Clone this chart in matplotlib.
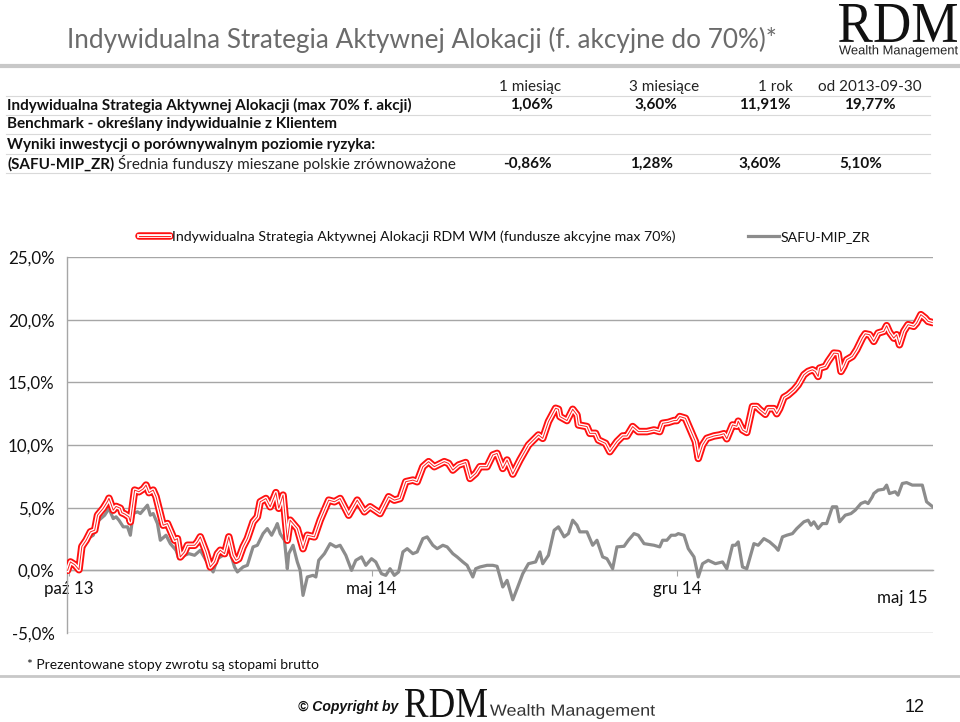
import numpy as np
import pandas as pd
import matplotlib
matplotlib.use("Agg")
import matplotlib.pyplot as plt
from matplotlib.lines import Line2D
from matplotlib.legend_handler import HandlerTuple
from matplotlib.ticker import FuncFormatter
from matplotlib.textpath import TextPath
from matplotlib.patches import PathPatch
from matplotlib.font_manager import FontProperties
from matplotlib.transforms import Affine2D

# ---------------- data ----------------
start_date = "2013-09-30"

red_days = [0, 2, 5, 8, 10, 13, 16, 19, 21, 25,
            28, 29, 32, 34, 37, 38, 40, 43, 44, 47,
            50, 53, 55, 57, 60, 62, 64, 67, 70, 72,
            75, 77, 79, 82, 84, 89, 91, 93, 97, 100,
            103, 105, 107, 110, 113, 116, 118, 120, 123, 126,
            130, 133, 135, 139, 142, 146, 148, 151, 154, 156,
            161, 165, 168, 173, 177, 183, 187, 191, 197, 203,
            208, 212, 219, 225, 229, 233, 237, 242, 245, 249,
            253, 257, 264, 267, 270, 274, 279, 282, 286, 289,
            294, 298, 301, 305, 308, 312, 317, 323, 330, 333,
            337, 342, 344, 345, 350, 354, 357, 358, 364, 366,
            370, 372, 377, 380, 385, 389, 392, 396, 400, 406,
            411, 415, 417, 421, 425, 427, 429, 433, 437, 440,
            442, 445, 448, 453, 457, 460, 462, 466, 469, 470,
            473, 476, 480, 483, 485, 489, 491, 495, 497, 499,
            502, 505, 509, 512, 516, 519, 522, 524, 526, 527,
            531, 533, 537, 540, 542, 544, 546, 550, 553, 557,
            559, 562, 565, 568, 572, 574, 576, 579, 581, 583,
            586, 589, 593, 595, 598, 601, 603, 606]
red_vals = [0.0, 0.67, 0.45, 0.05, 1.9, 2.4, 3.07, 3.2, 4.4, 4.95,
            5.5, 5.75, 4.8, 5.1, 4.95, 4.6, 4.5, 4.27, 3.87, 6.4,
            6.27, 6.5, 6.8, 6.2, 6.4, 5.87, 4.95, 3.6, 3.73, 3.2,
            2.4, 2.53, 1.07, 1.47, 2.0, 2.0, 2.27, 2.67, 1.47, 0.27,
            0.67, 1.33, 1.6, 1.33, 2.67, 1.2, 0.8, 0.93, 1.87, 2.53,
            3.87, 4.27, 5.47, 5.73, 5.07, 6.2, 4.95, 6.0, 2.4, 4.0,
            3.33, 1.73, 2.8, 2.67, 4.0, 5.6, 5.47, 5.73, 4.4, 5.6,
            4.67, 5.07, 4.53, 5.87, 5.6, 5.73, 7.07, 7.2, 7.07, 8.27,
            8.67, 8.27, 8.67, 8.53, 8.0, 8.4, 8.6, 7.33, 7.73, 8.27,
            8.27, 9.2, 9.33, 8.13, 8.8, 7.68, 8.8, 10.0, 10.8, 10.53,
            11.87, 12.93, 12.85, 12.27, 11.95, 12.85, 12.4, 11.6, 11.47, 10.93,
            10.93, 10.4, 10.13, 9.47, 10.27, 10.72, 10.72, 11.47, 11.07, 11.07,
            11.2, 11.07, 11.73, 11.8, 11.95, 11.95, 12.27, 12.13, 11.07, 10.27,
            8.93, 10.0, 10.53, 10.72, 10.8, 10.9, 10.5, 11.6, 11.5, 11.9,
            11.2, 11.0, 13.07, 13.07, 12.83, 12.45, 12.9, 12.9, 12.5, 12.9,
            13.8, 14.0, 14.4, 14.8, 15.6, 15.87, 16.0, 15.87, 15.47, 16.13,
            16.27, 16.67, 17.33, 17.3, 15.87, 16.27, 16.8, 17.07, 17.6, 18.53,
            18.87, 18.8, 18.27, 18.93, 19.07, 19.52, 19.0, 18.53, 18.8, 18.0,
            19.07, 19.6, 19.47, 19.73, 20.4, 20.13, 19.87, 19.77]

gray_days = [0, 2, 8, 10, 14, 18, 20, 22, 26, 29,
             32, 34, 36, 39, 42, 44, 46, 49, 51, 56,
             58, 60, 63, 65, 69, 72, 76, 78, 82, 85,
             89, 93, 97, 102, 105, 109, 111, 113, 117, 119,
             123, 126, 130, 133, 137, 140, 143, 146, 147, 149,
             152, 154, 155, 158, 161, 163, 165, 168, 172, 174,
             176, 180, 184, 188, 191, 195, 199, 202, 206, 209,
             213, 216, 220, 223, 226, 229, 232, 235, 238, 242,
             245, 249, 252, 256, 259, 263, 266, 270, 273, 277,
             280, 284, 286, 289, 294, 298, 301, 305, 308, 312,
             315, 319, 323, 328, 331, 333, 337, 341, 344, 348,
             351, 354, 357, 359, 364, 368, 371, 375, 378, 382,
             385, 390, 393, 397, 400, 404, 411, 415, 417, 420,
             423, 426, 428, 432, 435, 439, 441, 442, 445, 449,
             454, 459, 462, 466, 468, 470, 473, 476, 481, 484,
             488, 492, 496, 498, 501, 504, 508, 511, 516, 519,
             521, 523, 526, 529, 532, 536, 539, 541, 545, 549,
             552, 556, 559, 561, 564, 565, 568, 572, 574, 576,
             580, 582, 585, 588, 592, 599, 602, 605, 606]
gray_vals = [0.0, 0.53, 0.0, 1.47, 2.53, 2.8, 3.6, 4.0, 4.4, 4.93,
             4.13, 4.27, 4.0, 3.47, 3.47, 2.8, 4.53, 4.67, 4.53, 5.2,
             4.4, 4.53, 3.73, 2.4, 2.8, 2.13, 1.6, 0.93, 1.2, 1.33,
             1.2, 1.6, 0.8, -0.13, 0.93, 1.2, 1.2, 1.8, 0.27, -0.13,
             0.27, 0.4, 1.87, 2.0, 2.93, 3.33, 2.8, 3.47, 3.73, 2.93,
             2.4, 0.13, 1.33, 2.0, 0.67, 0.0, -2.0, -0.53, -0.4, -0.53,
             0.8, 1.33, 2.13, 1.87, 2.0, 1.2, 0.0, 0.8, 1.07, 0.4,
             0.93, 0.67, -0.27, -0.4, 0.13, -0.4, -0.13, 1.47, 1.73, 1.33,
             1.47, 2.53, 2.67, 2.0, 1.73, 2.0, 1.87, 1.33, 1.07, 0.67,
             0.4, -0.53, 0.13, 0.27, 0.4, 0.4, 0.32, -1.33, -0.8, -2.35,
             -1.47, -0.27, 0.53, 0.67, 1.47, 0.53, 1.2, 3.2, 3.47, 2.67,
             2.93, 4.0, 3.6, 3.07, 3.07, 2.0, 2.4, 1.07, 0.93, 0.13,
             1.87, 1.92, 2.4, 2.93, 2.8, 2.13, 2.0, 1.87, 2.4, 2.4,
             2.8, 2.8, 2.93, 2.8, 1.73, 1.07, 0.0, -0.53, 0.53, 0.8,
             0.53, 0.67, 0.13, 2.0, 2.0, 2.27, 0.27, 0.13, 2.13, 2.0,
             2.53, 2.27, 1.87, 1.6, 2.67, 2.8, 2.93, 3.33, 3.87, 4.0,
             3.6, 3.87, 3.33, 3.73, 3.73, 5.07, 5.07, 3.87, 4.4, 4.53,
             4.8, 5.33, 5.47, 5.33, 5.87, 6.13, 6.4, 6.47, 6.8, 6.13,
             6.27, 6.0, 6.93, 7.0, 6.8, 6.8, 5.47, 5.2, 5.1]

series_names = ["Indywidualna Strategia Aktywnej Alokacji RDM WM (fundusze akcyjne max 70%)",
                "SAFU-MIP_ZR"]

title_text = "Indywidualna Strategia Aktywnej Alokacji (f. akcyjne do 70%)*"
table_header = ["1 miesiąc", "3 miesiące", "1 rok", "od 2013-09-30"]
row1_label = "Indywidualna Strategia Aktywnej Alokacji (max 70% f. akcji)"
row1_vals = ["1,06%", "3,60%", "11,91%", "19,77%"]
row2_label = "Benchmark - określany indywidualnie z Klientem"
row3_label = "Wyniki inwestycji o porównywalnym poziomie ryzyka:"
row4_label_bold = "(SAFU-MIP_ZR)"
row4_label_rest = " Średnia funduszy mieszane polskie zrównoważone"
row4_vals = ["-0,86%", "1,28%", "3,60%", "5,10%"]

x_tick_dates = ["2013-10-01", "2014-05-01", "2014-12-01", "2015-05-01"]
x_tick_labels = ["paź 13", "maj 14", "gru 14", "maj 15"]
y_ticks = [-5, 0, 5, 10, 15, 20, 25]

footnote = "* Prezentowane stopy zwrotu są stopami brutto"
page_number = "12"

# ---------------- figure ----------------
W, H = 960, 722
FONT = ["Lato", "DejaVu Sans"]
plt.rcParams["font.family"] = FONT

fig = plt.figure(figsize=(W / 100, H / 100), dpi=100)
fig.patch.set_facecolor("white")
renderer = fig.canvas.get_renderer()


def fit_size(s, target, base=12, **kw):
    t = fig.text(0, 0, s, fontsize=base, **kw)
    w = t.get_window_extent(renderer).width
    t.remove()
    return base * target / w


def put(x, y, s, target=None, size=12, ha="left", va="center", **kw):
    if target is not None:
        size = fit_size(s, target, **kw)
    return fig.text(x / W, 1 - y / H, s, fontsize=size, ha=ha, va=va, **kw)


def hline(y, x0, x1, color, lw):
    fig.add_artist(Line2D([x0 / W, x1 / W], [1 - y / H, 1 - y / H],
                          transform=fig.transFigure, color=color, lw=lw))


def logo_word(s, x0, y_top, width, height, family, color):
    path = TextPath((0, 0), s, size=100, prop=FontProperties(family=family))
    bb = path.get_extents()
    tr = (Affine2D().translate(-bb.x0, -bb.y0)
          .scale(width / bb.width / W, height / bb.height / H)
          .translate(x0 / W, 1 - (y_top + height) / H) + fig.transFigure)
    fig.add_artist(PathPatch(path, facecolor=color, edgecolor="none", transform=tr))


# title
put(67, 40, title_text, target=705, color="#6b6b6b")

# top logo
logo_word("RDM", 839, 4, 118, 38, "Liberation Serif", "#111111")
logo_word("Wealth Management", 839, 45, 119, 12, "Liberation Sans", "#222222")

# separator lines
hline(66, 0, 960, "#c8c8c8", 3)
hline(676, 0, 960, "#c8c8c8", 2)

# table
tbl_size = fit_size(row1_label, 403, fontweight="bold")
header_x = [530, 664, 775, 870]
row1_x = [531, 656, 765, 870]
row4_x = [527, 652, 760, 861]
for s, x in zip(table_header, header_x):
    put(x, 87, s, size=tbl_size, ha="center", color="#222222")
put(7, 105, row1_label, size=tbl_size, fontweight="bold", color="#111111")
for s, x in zip(row1_vals, row1_x):
    put(x, 105, s, size=tbl_size, ha="center", fontweight="bold", color="#111111")
put(7, 124, row2_label, size=tbl_size, fontweight="bold", color="#111111")
put(7, 145, row3_label, size=tbl_size, fontweight="bold", color="#111111")
tb = put(7, 164, row4_label_bold, size=tbl_size, fontweight="bold", color="#111111")
bx = tb.get_window_extent(renderer).x1
put(bx, 164, row4_label_rest, size=tbl_size, color="#222222")
for s, x in zip(row4_vals, row4_x):
    put(x, 164, s, size=tbl_size, ha="center", fontweight="bold", color="#111111")
for y in [96, 115, 134, 154, 173]:
    hline(y, 6, 930, "#d9d9d9", 0.8)

# chart
ax_l, ax_r, ax_t, ax_b = 67, 933, 257, 633
ax = fig.add_axes([ax_l / W, 1 - ax_b / H, (ax_r - ax_l) / W, (ax_b - ax_t) / H])
t0 = pd.Timestamp(start_date)
red_dates = t0 + pd.to_timedelta(red_days, unit="D")
gray_dates = t0 + pd.to_timedelta(gray_days, unit="D")

gl = ax.plot(gray_dates, gray_vals, color="#8c8c8c", lw=2.3, zorder=3,
             solid_joinstyle="round")[0]
r1 = ax.plot(red_dates, red_vals, color="#ff1010", lw=5.4, zorder=4,
             solid_joinstyle="round", solid_capstyle="round")[0]
r2 = ax.plot(red_dates, red_vals, color="white", lw=2.7, zorder=5,
             solid_joinstyle="round")[0]
r3 = ax.plot(red_dates, red_vals, color="#ff2020", lw=0.7, zorder=6,
             solid_joinstyle="round")[0]

ax.set_xlim(t0 - pd.Timedelta(days=0.4), t0 + pd.Timedelta(days=606.5))
ax.set_ylim(min(y_ticks), max(y_ticks))
ax.set_yticks(y_ticks)
ax.yaxis.set_major_formatter(FuncFormatter(lambda v, p: f"{v:.1f}%".replace(".", ",")))
ax.grid(axis="y", color="#a6a6a6", lw=1.0)
ax.set_axisbelow(True)
for sp in ["top", "right"]:
    ax.spines[sp].set_visible(False)
ax.spines["left"].set_color("#a6a6a6")
ax.spines["left"].set_linewidth(1.0)
ax.spines["bottom"].set_position(("data", 0))
ax.spines["bottom"].set_color("#a6a6a6")
ax.spines["bottom"].set_linewidth(1.0)
ax.tick_params(axis="y", length=0, pad=9, labelsize=tbl_size * 1.1, labelcolor="#111111")
tick_dates = pd.to_datetime(x_tick_dates)
ax.set_xticks(tick_dates[:3])
ax.set_xticklabels(x_tick_labels[:3])
ax.tick_params(axis="x", length=4, color="#a6a6a6", pad=4,
               labelsize=tbl_size * 1.1, labelcolor="#111111")
ax.annotate(x_tick_labels[3], xy=(tick_dates[3], 0), xytext=(7, -14),
            textcoords="offset points", ha="center", va="top",
            fontsize=tbl_size * 1.1, color="#111111")

# legend
leg_size = fit_size(series_names[0], 503)
em = leg_size * 100 / 72
leg = fig.legend([(r1, r2, r3), gl], series_names, loc="center left",
                 bbox_to_anchor=(139 / W, 1 - 237 / H), bbox_transform=fig.transFigure,
                 ncol=2, frameon=False, fontsize=leg_size,
                 handlelength=31 / em, handletextpad=2 / em, columnspacing=72 / em,
                 borderpad=0, borderaxespad=0,
                 handler_map={tuple: HandlerTuple(ndivide=1)})
for t in leg.get_texts():
    t.set_color("#111111")

# footnote and footer
put(27, 665, footnote, target=289, color="#111111")
put(348, 707, "© Copyright by", target=100, ha="center", fontweight="bold",
    fontstyle="italic", family=["Liberation Sans", "DejaVu Sans"], color="#111111")
logo_word("RDM", 405, 689, 82, 28, "Liberation Serif", "#111111")
logo_word("Wealth Management", 490, 704, 165, 15, "Liberation Sans", "#333333")
put(915, 707, page_number, size=13, ha="center",
    family=["Liberation Sans", "DejaVu Sans"], color="#111111")

fig.savefig("out.png", dpi=100, facecolor="white")
